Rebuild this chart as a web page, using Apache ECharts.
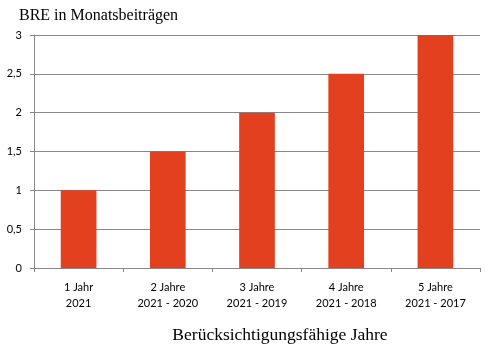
<!DOCTYPE html>
<html><head><meta charset="utf-8">
<script src="https://cdn.jsdelivr.net/npm/echarts@6/dist/echarts.min.js"></script>
<style>html,body{margin:0;padding:0;background:#fff}#c{width:498px;height:356px}</style>
</head><body><div id="c"></div>
<script>
const categories = ["1 Jahr\n2021", "2 Jahre\n2021 - 2020", "3 Jahre\n2021 - 2019", "4 Jahre\n2021 - 2018", "5 Jahre\n2021 - 2017"];
const values = [1, 1.5, 2, 2.5, 3];
const yTicks = [0, 0.5, 1, 1.5, 2, 2.5, 3];
const chart = echarts.init(document.getElementById('c'));
chart.setOption({
  animation: false,
  title: {
    text: "BRE in Monatsbeiträgen", left: 14, top: 3,
    textStyle: {fontFamily: "Liberation Serif", fontSize: 16, fontWeight: 'normal', color: '#000'}
  },
  grid: {left: 34, right: 18, top: 35, bottom: 88, containLabel: false},
  xAxis: {
    type: 'category', data: categories,
    name: "Berücksichtigungsfähige Jahre", nameLocation: 'middle', nameGap: 58,
    nameTextStyle: {fontFamily: "Liberation Serif", fontSize: 17.5, color: '#000', padding: [0, 0, 0, 46]},
    axisLine: {lineStyle: {color: '#888'}},
    axisTick: {show: true, length: 4, lineStyle: {color: '#888'}},
    axisLabel: {fontFamily: "Lato", fontSize: 11, color: '#000', lineHeight: 16, margin: 11}
  },
  yAxis: {
    type: 'value', min: yTicks[0], max: yTicks[yTicks.length - 1], interval: 0.5,
    axisLine: {show: true, lineStyle: {color: '#888'}},
    axisTick: {show: true, length: 4, lineStyle: {color: '#888'}},
    splitLine: {lineStyle: {color: '#888'}},
    axisLabel: {fontFamily: "Lato", fontSize: 11, color: '#000', margin: 12,
      formatter: v => String(v).replace('.', ',')}
  },
  series: [{
    type: 'bar', data: values, barWidth: '40%',
    itemStyle: {color: '#E2401F'}
  }]
});
</script></body></html>
